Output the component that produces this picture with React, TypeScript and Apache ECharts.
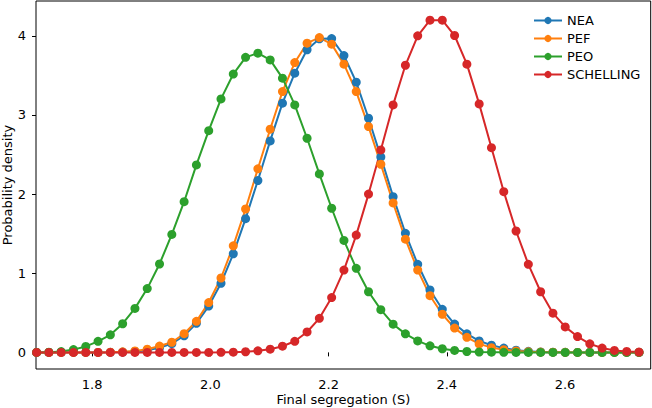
import React, { useEffect, useRef } from "react";
import * as echarts from "echarts";

// Evaluation grid of final segregation values (S)
const segregation = [
  1.706, 1.7268, 1.7476, 1.7684, 1.7892, 1.81, 1.8308, 1.8516, 1.8724, 1.8932,
  1.914, 1.9348, 1.9556, 1.9764, 1.9972, 2.018, 2.0388, 2.0596, 2.0804, 2.1012,
  2.122, 2.1428, 2.1636, 2.1844, 2.2052, 2.226, 2.2468, 2.2676, 2.2884, 2.3092,
  2.33, 2.3508, 2.3716, 2.3924, 2.4132, 2.434, 2.4548, 2.4756, 2.4964, 2.5172,
  2.538, 2.5588, 2.5796, 2.6004, 2.6212, 2.642, 2.6628, 2.6836, 2.7044, 2.7252,
];

// Probability density per model
const nea = [
  0, 0, 0, 0, 0, 0, 0.001, 0.004, 0.012, 0.028,
  0.058, 0.11, 0.21, 0.367, 0.585, 0.873, 1.245, 1.69, 2.172, 2.672,
  3.149, 3.528, 3.823, 3.962, 3.965, 3.751, 3.414, 2.959, 2.47, 1.968,
  1.505, 1.113, 0.788, 0.544, 0.358, 0.234, 0.145, 0.09, 0.054, 0.028,
  0.014, 0.006, 0.003, 0.001, 0, 0, 0, 0, 0, 0,
];
const pef = [
  0, 0, 0, 0, 0, 0, 0.002, 0.007, 0.018, 0.04,
  0.08, 0.128, 0.236, 0.393, 0.63, 0.94, 1.346, 1.812, 2.32, 2.82,
  3.295, 3.662, 3.907, 3.978, 3.895, 3.642, 3.295, 2.853, 2.377, 1.888,
  1.431, 1.04, 0.716, 0.482, 0.307, 0.19, 0.107, 0.06, 0.034, 0.018,
  0.008, 0.004, 0.002, 0.001, 0, 0, 0, 0, 0, 0,
];
const peo = [
  0, 0.002, 0.01, 0.035, 0.075, 0.14, 0.222, 0.362, 0.556, 0.806,
  1.117, 1.49, 1.904, 2.369, 2.802, 3.203, 3.517, 3.728, 3.781, 3.696,
  3.465, 3.127, 2.706, 2.255, 1.821, 1.415, 1.062, 0.766, 0.54, 0.356,
  0.234, 0.145, 0.083, 0.046, 0.025, 0.011, 0.005, 0.002, 0.001, 0,
  0, 0, 0, 0, 0, 0, 0, 0, 0, 0,
];
const schelling = [
  0, 0, 0, 0, 0, 0, 0, 0, 0, 0,
  0, 0, 0, 0, 0, 0.001, 0.003, 0.008, 0.02, 0.04,
  0.078, 0.14, 0.258, 0.43, 0.693, 1.04, 1.482, 2.0, 2.558, 3.127,
  3.628, 4.0, 4.198, 4.198, 4.004, 3.642, 3.14, 2.587, 2.031, 1.534,
  1.113, 0.766, 0.496, 0.322, 0.2, 0.108, 0.055, 0.025, 0.012, 0.004,
];

const seriesNames = ["NEA", "PEF", "PEO", "SCHELLING"];
const seriesValues = [nea, pef, peo, schelling];
const seriesColors = ["#1f77b4", "#ff7f0e", "#2ca02c", "#d62728"];

const xTicks = [1.8, 2.0, 2.2, 2.4, 2.6];
const yTicks = [0, 1, 2, 3, 4];

const FONT = "DejaVu Sans";

export default function App() {
  const ref = useRef<HTMLDivElement>(null);

  useEffect(() => {
    document.body.style.margin = "0";
    if (!ref.current) return;
    const chart = echarts.init(ref.current, undefined, { renderer: "svg" });

    chart.setOption({
      animation: false,
      backgroundColor: "#ffffff",
      grid: {
        left: 36,
        right: 1.3,
        top: 1,
        bottom: 39,
        containLabel: false,
        outerBoundsMode: "none",
        show: true,
        borderColor: "#000",
        borderWidth: 1,
        backgroundColor: "transparent",
      },
      legend: {
        orient: "vertical",
        left: 528,
        top: 9,
        itemWidth: 28,
        itemHeight: 9,
        itemGap: 5,
        textStyle: { fontFamily: FONT, fontSize: 13, color: "#000" },
        data: seriesNames,
      },
      xAxis: {
        type: "value",
        min: 1.705,
        max: 2.745,
        name: "Final segregation (S)",
        nameLocation: "middle",
        nameGap: 24,
        nameMoveOverlap: false,
        nameTextStyle: { fontFamily: FONT, fontSize: 13, color: "#000" },
        splitLine: { show: false },
        axisLine: { show: false },
        axisTick: {
          show: true,
          length: 4,
          customValues: xTicks,
          lineStyle: { color: "#000" },
        },
        axisLabel: {
          customValues: xTicks,
          margin: 9,
          fontFamily: FONT,
          fontSize: 13,
          color: "#000",
          formatter: (v: number) => v.toFixed(1),
        },
      },
      yAxis: {
        type: "value",
        min: -0.21,
        max: 4.44,
        name: "Probability density",
        nameLocation: "middle",
        nameGap: 22,
        nameMoveOverlap: false,
        nameTextStyle: { fontFamily: FONT, fontSize: 13, color: "#000" },
        splitLine: { show: false },
        axisLine: { show: false },
        axisTick: {
          show: true,
          length: 4,
          customValues: yTicks,
          lineStyle: { color: "#000" },
        },
        axisLabel: {
          customValues: yTicks,
          margin: 10,
          fontFamily: FONT,
          fontSize: 13,
          color: "#000",
          formatter: (v: number) => String(Math.round(v)),
        },
      },
      series: seriesNames.map((name, k) => ({
        name,
        type: "line",
        data: segregation.map((x, i) => [x, seriesValues[k][i]]),
        symbol: "circle",
        symbolSize: 9,
        showSymbol: true,
        color: seriesColors[k],
        lineStyle: { width: 2, color: seriesColors[k] },
        itemStyle: { color: seriesColors[k] },
        clip: true,
      })),
    });

    return () => chart.dispose();
  }, []);

  return <div ref={ref} style={{ width: 652, height: 408 }} />;
}
